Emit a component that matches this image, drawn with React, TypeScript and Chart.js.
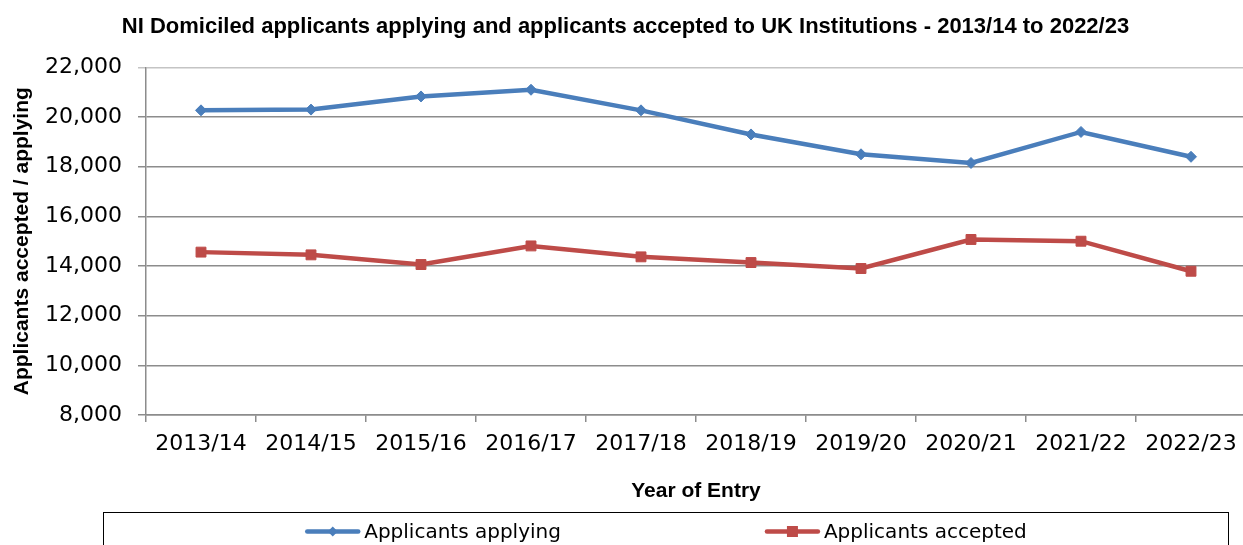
import React, { useEffect, useRef } from "react";
import { Chart, registerables } from "chart.js";

Chart.register(...registerables);

const chartTitle =
  "NI Domiciled applicants applying and applicants accepted to UK Institutions - 2013/14 to 2022/23";
const xAxisTitle = "Year of Entry";
const yAxisTitle = "Applicants accepted / applying";

const categories = [
  "2013/14",
  "2014/15",
  "2015/16",
  "2016/17",
  "2017/18",
  "2018/19",
  "2019/20",
  "2020/21",
  "2021/22",
  "2022/23",
];

const applying = [20270, 20300, 20830, 21100, 20270, 19300, 18500, 18150, 19400, 18400];
const accepted = [14560, 14450, 14060, 14810, 14370, 14140, 13900, 15070, 15000, 13790];

const seriesNames = ["Applicants applying", "Applicants accepted"];

const yMin = 8000;
const yMax = 22000;
const yStep = 2000;

const BLUE = "#4a7ebb";
const RED = "#be4b48";
const GRID = "#8c8c8c";

const CANVAS_W = 1254;
const CANVAS_H = 560;

const boxLegend = {
  id: "boxLegend",
  afterDraw(chart: any) {
    const ctx = chart.ctx as CanvasRenderingContext2D;
    const boxLeft = 103.5;
    const boxTop = 512.5;
    const boxRight = 1228.5;
    const boxBottom = CANVAS_H + 20;
    ctx.save();
    ctx.strokeStyle = "#000";
    ctx.lineWidth = 1;
    ctx.strokeRect(boxLeft, boxTop, boxRight - boxLeft, boxBottom - boxTop);

    ctx.font = '20px "DejaVu Sans"';
    ctx.textBaseline = "middle";
    ctx.textAlign = "left";
    const lineLen = 55;
    const textGap = 4;
    const itemGap = 204;
    const items = chart.data.datasets.map((ds: any) => ({
      label: ds.label as string,
      color: ds.borderColor as string,
      style: ds.pointStyle as string,
    }));
    const widths = items.map(
      (it: any) => lineLen + textGap + ctx.measureText(it.label).width
    );
    const total =
      widths.reduce((a: number, b: number) => a + b, 0) + itemGap * (items.length - 1);
    const cy = 531.5;
    let x = (boxLeft + boxRight) / 2 - total / 2;
    items.forEach((it: any, i: number) => {
      ctx.strokeStyle = it.color;
      ctx.fillStyle = it.color;
      ctx.lineWidth = 4.5;
      ctx.lineCap = "round";
      ctx.beginPath();
      ctx.moveTo(x + 2, cy);
      ctx.lineTo(x + lineLen - 2, cy);
      ctx.stroke();
      const mx = x + lineLen / 2;
      ctx.beginPath();
      if (it.style === "rectRot") {
        const r = 5;
        ctx.moveTo(mx, cy - r);
        ctx.lineTo(mx + r, cy);
        ctx.lineTo(mx, cy + r);
        ctx.lineTo(mx - r, cy);
        ctx.closePath();
      } else {
        const h = 5.5;
        ctx.rect(mx - h, cy - h, 2 * h, 2 * h);
      }
      ctx.fill();
      ctx.fillStyle = "#000";
      ctx.fillText(it.label, x + lineLen + textGap, cy + 1);
      x += widths[i] + itemGap;
    });
    ctx.restore();
  },
};

export default function App() {
  const canvasRef = useRef<HTMLCanvasElement | null>(null);

  useEffect(() => {
    const canvas = canvasRef.current;
    if (!canvas) return;
    const chart = new Chart(canvas, {
      type: "line",
      data: {
        labels: categories,
        datasets: [
          {
            label: seriesNames[0],
            data: applying,
            borderColor: BLUE,
            backgroundColor: BLUE,
            borderWidth: 4.5,
            pointStyle: "rectRot",
            pointRadius: 5.5,
            pointBorderWidth: 1,
            pointBackgroundColor: BLUE,
            pointBorderColor: BLUE,
            tension: 0,
            fill: false,
          },
          {
            label: seriesNames[1],
            data: accepted,
            borderColor: RED,
            backgroundColor: RED,
            borderWidth: 4.5,
            pointStyle: "rect",
            pointRadius: 7,
            pointBorderWidth: 1,
            pointBackgroundColor: RED,
            pointBorderColor: RED,
            tension: 0,
            fill: false,
          },
        ],
      },
      options: {
        animation: false,
        responsive: false,
        devicePixelRatio: 1,
        layout: { padding: { left: 0, right: 3, top: 0, bottom: CANVAS_H - 512 } },
        plugins: {
          legend: { display: false },
          tooltip: { enabled: false },
          title: {
            display: true,
            text: chartTitle,
            color: "#000",
            font: { family: '"Liberation Sans", Arial, sans-serif', size: 22, weight: "bold" },
            padding: { top: 14, bottom: 27 },
          },
        },
        scales: {
          x: {
            type: "category",
            offset: true,
            grid: {
              display: true,
              offset: true,
              drawOnChartArea: false,
              drawTicks: true,
              tickLength: 7,
              color: GRID,
              lineWidth: 1.5,
            },
            border: { display: true, color: GRID, width: 1.5 },
            ticks: {
              color: "#000",
              font: { family: '"DejaVu Sans", sans-serif', size: 22 },
              padding: 9,
              maxRotation: 0,
              autoSkip: false,
            },
            title: {
              display: true,
              text: xAxisTitle,
              color: "#000",
              font: { family: '"Liberation Sans", Arial, sans-serif', size: 21, weight: "bold" },
              padding: { top: 0, bottom: 8 },
            },
            afterFit: (scale: any) => {
              scale.height = 97;
            },
          },
          y: {
            min: yMin,
            max: yMax,
            ticks: {
              stepSize: yStep,
              color: "#000",
              font: { family: '"DejaVu Sans", sans-serif', size: 22 },
              padding: 16,
              callback: (v: any) => Number(v).toLocaleString("en-US"),
            },
            grid: {
              color: (c: any) => (c.tick && c.tick.value === yMax ? "#c4c4c4" : GRID),
              lineWidth: 1.5,
              tickLength: 8,
              drawTicks: true,
            },
            border: { display: true, color: GRID, width: 1.5 },
            title: {
              display: true,
              text: yAxisTitle,
              color: "#000",
              font: { family: '"Liberation Sans", Arial, sans-serif', size: 21, weight: "bold" },
              padding: { top: 10, bottom: 0 },
            },
            afterFit: (scale: any) => {
              scale.width = 146;
            },
          },
        },
      },
      plugins: [boxLegend],
    });
    return () => chart.destroy();
  }, []);

  return (
    <div
      style={{
        position: "fixed",
        left: 0,
        top: 0,
        width: 1243,
        height: 545,
        overflow: "hidden",
        background: "#fff",
      }}
    >
      <canvas ref={canvasRef} width={CANVAS_W} height={CANVAS_H} style={{ display: "block" }} />
    </div>
  );
}
